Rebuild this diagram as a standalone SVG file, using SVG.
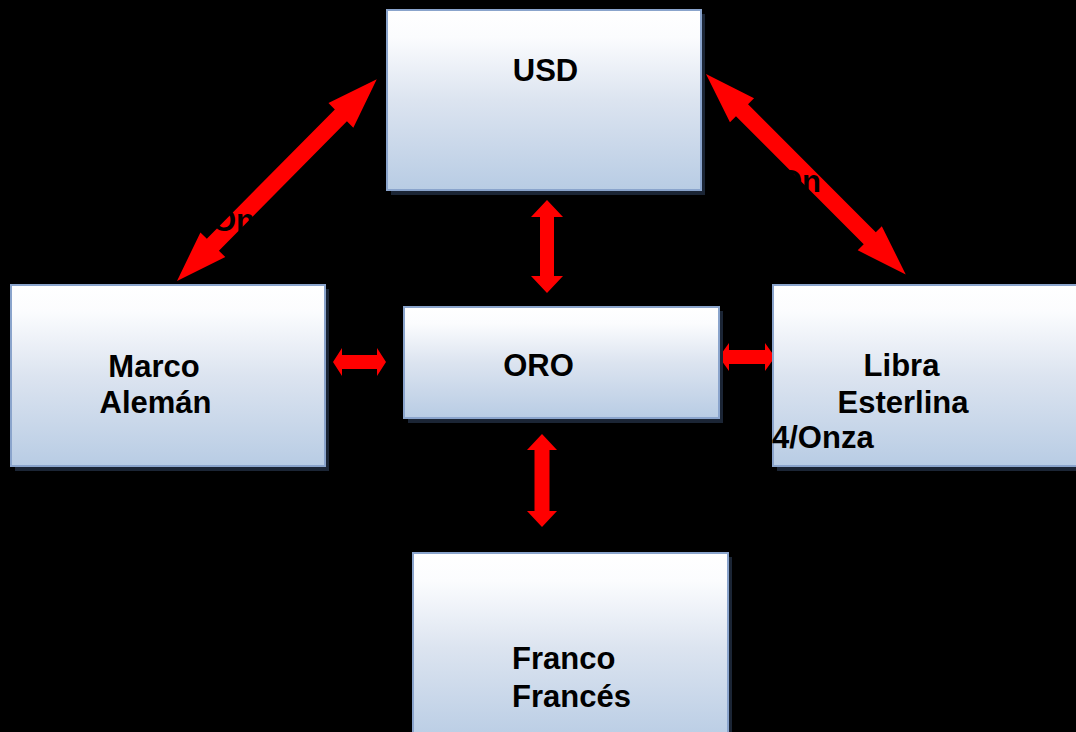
<svg xmlns="http://www.w3.org/2000/svg" width="1076" height="732" viewBox="0 0 1076 732">
  <defs>
    <linearGradient id="boxGrad" x1="0" y1="0" x2="0" y2="1">
      <stop offset="0" stop-color="#ffffff"/>
      <stop offset="0.15" stop-color="#fbfcfe"/>
      <stop offset="0.5" stop-color="#dce4f0"/>
      <stop offset="1" stop-color="#b8cce4"/>
    </linearGradient>
    <style>
      .box { fill: url(#boxGrad); stroke: #8aa4cc; stroke-width: 2; }
      .shadow { fill: #1b2535; }
      .lbl { font-family: "Liberation Sans", Arial, sans-serif; font-weight: bold; font-size: 31px; fill: #000000; }
      .arrow { fill: #ff0000; }
    </style>
  </defs>
  <rect x="0" y="0" width="1076" height="732" fill="#000000"/>

  <g id="connectors">
    <path class="arrow" transform="translate(177,281) rotate(-45.3)" d="M0,0 L51,-17.5 L51,-8.5 L233,-8.5 L233,-17.5 L284,0 L233,17.5 L233,8.5 L51,8.5 L51,17.5 Z"/>
    <path class="arrow" transform="translate(706,74) rotate(45.1)" d="M0,0 L51,-17 L51,-8.5 L232,-8.5 L232,-17 L283,0 L232,17 L232,8.5 L51,8.5 L51,17 Z"/>
    <path class="arrow" d="M547,200 L563,217 L554,217 L554,276 L563,276 L547,293 L531,276 L540,276 L540,217 L531,217 Z"/>
    <path class="arrow" d="M542,434 L557,450 L549.5,450 L549.5,511 L557,511 L542,527 L527,511 L534.5,511 L534.5,450 L527,450 Z"/>
    <path class="arrow" d="M333,362 L342,348 L342,355 L377,355 L377,348 L386,362 L377,376 L377,369 L342,369 L342,376 Z"/>
    <path class="arrow" d="M719,357 L729,343 L729,350 L765,350 L765,343 L775,357 L765,371 L765,364 L729,364 L729,371 Z"/>
    <text class="lbl" x="212" y="231">On</text>
    <text class="lbl" x="778" y="192">On</text>
  </g>

  <g id="usd">
    <rect class="shadow" x="391" y="14" width="314" height="181"/>
    <rect class="box" x="387" y="10" width="314" height="180"/>
    <text class="lbl" x="545.5" y="81" text-anchor="middle">USD</text>
  </g>

  <g id="oro">
    <rect class="shadow" x="408" y="311" width="315" height="112"/>
    <rect class="box" x="404" y="307" width="315" height="111"/>
    <text class="lbl" x="538.5" y="376" text-anchor="middle">ORO</text>
  </g>

  <g id="marco">
    <rect class="shadow" x="15" y="289" width="314" height="182"/>
    <rect class="box" x="11" y="285" width="314" height="181"/>
    <text class="lbl" x="154" y="377" text-anchor="middle">Marco</text>
    <text class="lbl" x="155.5" y="413" text-anchor="middle">Alemán</text>
  </g>

  <g id="libra">
    <rect class="shadow" x="777" y="289" width="310" height="182"/>
    <rect class="box" x="773" y="285" width="310" height="181"/>
    <text class="lbl" x="901.5" y="376" text-anchor="middle">Libra</text>
    <text class="lbl" x="903" y="413" text-anchor="middle">Esterlina</text>
    <text class="lbl" x="772" y="448">4/Onza</text>
  </g>

  <g id="franco">
    <rect class="shadow" x="417" y="557" width="315" height="190"/>
    <rect class="box" x="413" y="553" width="315" height="190"/>
    <text class="lbl" x="512" y="669">Franco</text>
    <text class="lbl" x="512" y="707">Francés</text>
  </g>
</svg>
